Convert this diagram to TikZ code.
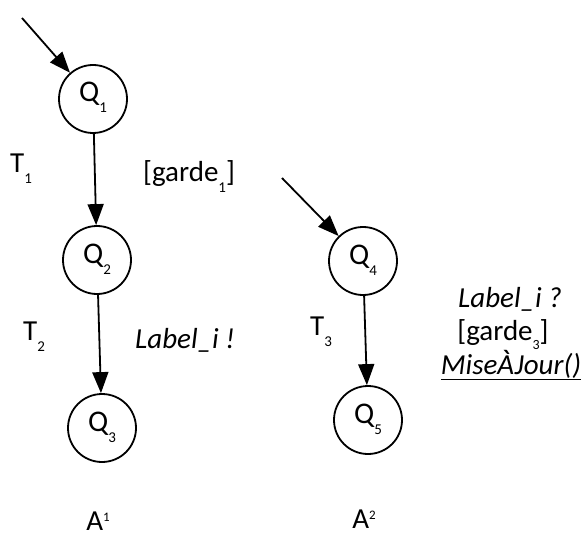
\documentclass[tikz,border=0pt]{standalone}
\usepackage{fontspec}
\setmainfont{Carlito}
\usetikzlibrary{arrows.meta}
\newcommand{\sbs}[1]{\raisebox{-11pt}{\fontsize{15}{15}\selectfont #1}}
\newcommand{\sbsl}[1]{\raisebox{-9pt}[8pt][0pt]{\fontsize{14}{14}\selectfont #1}}
\newcommand{\sps}[1]{\raisebox{9pt}{\fontsize{13}{13}\selectfont #1}}
\newcommand{\qlab}[1]{\raisebox{-3pt}[0pt][0pt]{#1}}
\begin{document}
\begin{tikzpicture}[x=1pt,y=-1pt,
  state/.style={draw,circle,line width=1.8pt,minimum size=68pt,inner sep=0pt,font=\fontsize{30}{34}\selectfont},
  arr/.style={line width=1.8pt,-{Triangle[length=21pt,width=16pt]}},
  lbl/.style={inner sep=0pt,font=\fontsize{29}{33}\selectfont},
]
\useasboundingbox (0,0) rectangle (583,537);
% automaton A1
\node[state] (q1) at (93,99) {\qlab{Q\sbs{1}}};
\node[state] (q2) at (97,260) {\qlab{Q\sbs{2}}};
\node[state] (q3) at (102,428) {\qlab{Q\sbs{3}}};
\coordinate (s1) at (22,18);
\draw[arr] (s1) -- (q1);
\draw[arr] (q1) -- (q2);
\draw[arr] (q2) -- (q3);
\node[lbl,anchor=base west] (t1) at (10,173) {T\sbs{1}};
\node[lbl,anchor=base west] (g1) at (143,182) {[garde\sbs{1}]};
\node[lbl,anchor=base west] (t2) at (23,340) {T\sbs{2}};
\node[lbl,anchor=base west] (l1) at (135,348) {\textit{Label\_i !}};
\node[lbl,anchor=base] (a1) at (98,530) {A\sps{1}};
% automaton A2
\node[state] (q4) at (363,261) {\qlab{Q\sbs{4}}};
\node[state] (q5) at (368,420) {\qlab{Q\sbs{5}}};
\coordinate (s4) at (282,178);
\draw[arr] (s4) -- (q4);
\draw[arr] (q4) -- (q5);
\node[lbl,anchor=base west] (t3) at (310,335) {T\sbs{3}};
\node[lbl,anchor=base] (l2) at (510,307) {\textit{Label\_i ?}};
\node[lbl,anchor=base] (g3) at (503,340) {[garde\sbsl{3}]};
\node[lbl,anchor=base] (m3) at (511,374) {\textit{\underline{MiseÀJour()}}};
\node[lbl,anchor=base] (a2) at (364,528) {A\sps{2}};
\end{tikzpicture}
\end{document}
